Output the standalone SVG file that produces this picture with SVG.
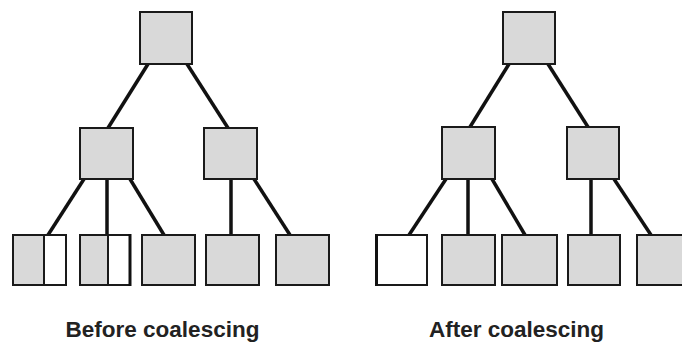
<svg xmlns="http://www.w3.org/2000/svg" width="682" height="342" viewBox="0 0 682 342">
  <style>
    .blk { fill: #d9d9d9; stroke: #1a1a1a; stroke-width: 2; }
    .free { fill: #ffffff; stroke: #1a1a1a; stroke-width: 2; }
    .edge { stroke: #111111; stroke-width: 3.5; fill: none; }
    .thick { stroke: #111111; stroke-width: 3; fill: none; }
    .cap { font-family: "Liberation Sans", Arial, sans-serif; font-weight: bold; font-size: 22.5px; fill: #222222; text-anchor: middle; }
  </style>
  <rect width="682" height="342" fill="#ffffff"/>

  <!-- connectors -->
  <g id="connectors">
    <!-- before -->
    <line class="edge" x1="148" y1="64" x2="108" y2="128"/>
    <line class="edge" x1="187" y1="64" x2="228" y2="128"/>
    <line class="edge" x1="84" y1="179" x2="48" y2="235"/>
    <line class="edge" x1="107" y1="179" x2="107" y2="235"/>
    <line class="edge" x1="130" y1="179" x2="164" y2="235"/>
    <line class="edge" x1="231" y1="179" x2="231" y2="235"/>
    <line class="edge" x1="254" y1="179" x2="290" y2="235"/>
    <!-- after -->
    <line class="edge" x1="509" y1="64" x2="470" y2="127"/>
    <line class="edge" x1="548" y1="64" x2="588" y2="127"/>
    <line class="edge" x1="446" y1="179" x2="409" y2="235"/>
    <line class="edge" x1="468" y1="179" x2="468" y2="235"/>
    <line class="edge" x1="492" y1="179" x2="525" y2="235"/>
    <line class="edge" x1="591" y1="179" x2="591" y2="235"/>
    <line class="edge" x1="614" y1="179" x2="651" y2="235"/>
  </g>

  <!-- before coalescing -->
  <g id="b-root"><rect class="blk" x="140" y="12" width="52" height="52"/></g>
  <g id="b-mid-l"><rect class="blk" x="80" y="128" width="53" height="51"/></g>
  <g id="b-mid-r"><rect class="blk" x="204" y="128" width="53" height="51"/></g>
  <g id="b-leaf1">
    <rect class="free" x="13" y="235" width="53" height="50"/>
    <rect class="blk" x="13" y="235" width="31" height="50"/>
  </g>
  <g id="b-leaf2">
    <rect class="free" x="80" y="235" width="50" height="50"/>
    <rect class="blk" x="80" y="235" width="28" height="50"/>
    <line class="thick" x1="130" y1="234" x2="130" y2="286"/>
  </g>
  <g id="b-leaf3"><rect class="blk" x="142" y="235" width="53" height="50"/></g>
  <g id="b-leaf4"><rect class="blk" x="206" y="235" width="53" height="50"/></g>
  <g id="b-leaf5"><rect class="blk" x="276" y="235" width="53" height="50"/></g>
  <text class="cap" x="162.5" y="337">Before coalescing</text>

  <!-- after coalescing -->
  <g id="a-root"><rect class="blk" x="503" y="12" width="52" height="52"/></g>
  <g id="a-mid-l"><rect class="blk" x="442" y="127" width="53" height="52"/></g>
  <g id="a-mid-r"><rect class="blk" x="567" y="127" width="52" height="52"/></g>
  <g id="a-leaf1">
    <rect class="free" x="376" y="235" width="51" height="50"/>
    <line class="thick" x1="376.5" y1="234" x2="376.5" y2="286"/>
  </g>
  <g id="a-leaf2"><rect class="blk" x="442" y="235" width="53" height="50"/></g>
  <g id="a-leaf3"><rect class="blk" x="502" y="235" width="55" height="50"/></g>
  <g id="a-leaf4"><rect class="blk" x="568" y="235" width="52" height="50"/></g>
  <g id="a-leaf5"><rect class="blk" x="637" y="235" width="53" height="50"/></g>
  <text class="cap" x="516.5" y="337">After coalescing</text>
</svg>
